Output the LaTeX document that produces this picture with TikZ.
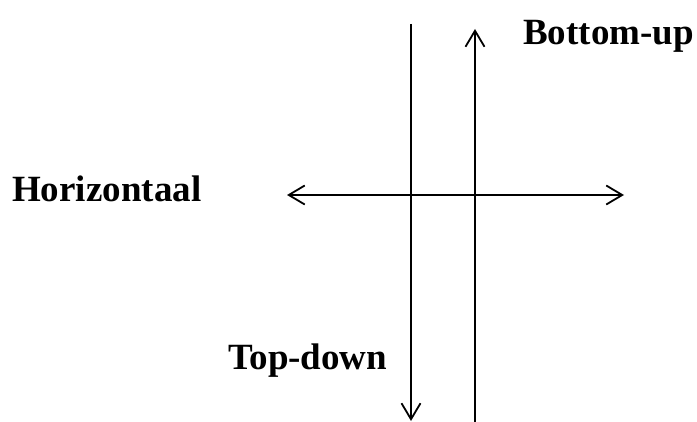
\documentclass[tikz,border=0pt]{standalone}
\usepackage{fontspec}
\setmainfont{Liberation Serif}
\usepackage{tikz}
\usetikzlibrary{arrows.meta,positioning}
\tikzset{
  lbl/.style={anchor=base west,inner sep=0pt,font=\fontsize{37}{40}\selectfont\bfseries},
  ln/.style ={line width=1.8pt},
  ar/.style ={-{Straight Barb[length=16pt,width=19pt,line width=1.8pt]},line width=1.8pt},
  dar/.style={{Straight Barb[length=16pt,width=19pt,line width=1.8pt]}-{Straight Barb[length=16pt,width=19pt,line width=1.8pt]},line width=1.8pt},
}
\begin{document}
\begin{tikzpicture}[x=1pt,y=-1pt]
  \useasboundingbox (0,0) rectangle (697,422);
  % the two verticals
  \coordinate (tdtop) at (411,24);
  \coordinate (tdbot) at (411,421);
  \coordinate (butop) at (475,29);
  \coordinate (bubot) at (475,422);
  % the horizontal one
  \coordinate (hl) at (287,195);
  \coordinate (hr) at (624,195);
  \draw[ar] (tdtop) -- (tdbot);
  \draw[ar] (bubot) -- (butop);
  \draw[dar] (hl) -- (hr);
  \node[lbl] (bu) at (523,45){Bottom-up};
  \node[lbl] (hz) at (12,202){Horizontaal};
  \node[lbl] (td) at (228,370){Top-down};
\end{tikzpicture}
\end{document}
